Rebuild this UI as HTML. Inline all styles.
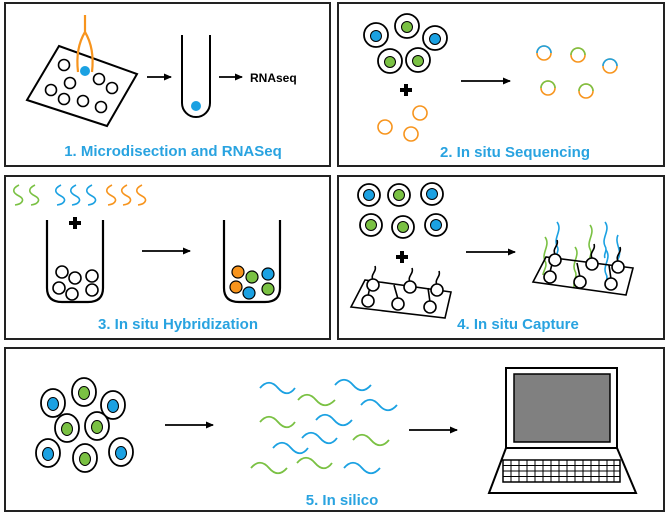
<!DOCTYPE html>
<html><head><meta charset="utf-8"><style>
html,body{margin:0;padding:0;background:#fff;}
svg{display:block;}
text{font-family:"Liberation Sans",sans-serif;font-weight:bold;}
</style></head><body>
<svg width="667" height="514" viewBox="0 0 667 514" xmlns="http://www.w3.org/2000/svg">
<defs>
<marker id="ah" markerWidth="8" markerHeight="8" refX="7" refY="4" orient="auto" markerUnits="userSpaceOnUse"><path d="M0,0.5 L8,4 L0,7.5 z" fill="#000"/></marker>
</defs>
<g fill="none" stroke="#222" stroke-width="2">
<rect x="5" y="3" width="325" height="163"/>
<rect x="338" y="3" width="326" height="163"/>
<rect x="5" y="176" width="325" height="163"/>
<rect x="338" y="176" width="326" height="163"/>
<rect x="5" y="348" width="659" height="163"/>
</g>
<g font-size="15" fill="#29a3e0" text-anchor="middle">
<text x="173" y="156">1. Microdisection and RNASeq</text>
<text x="515" y="157">2. In situ Sequencing</text>
<text x="178" y="329">3. In situ Hybridization</text>
<text x="518" y="329">4. In situ Capture</text>
<text x="342" y="505">5. In silico</text>
</g>
<!-- Panel 1 -->
<polygon points="27,100 59,46 137,74 107,126" fill="none" stroke="#000" stroke-width="2"/>
<g fill="none" stroke="#000" stroke-width="1.6">
<circle cx="64" cy="65" r="5.5"/><circle cx="70" cy="83" r="5.5"/><circle cx="51" cy="90" r="5.5"/><circle cx="64" cy="99" r="5.5"/><circle cx="83" cy="101" r="5.5"/><circle cx="99" cy="79" r="5.5"/><circle cx="112" cy="88" r="5.5"/><circle cx="101" cy="107" r="5.5"/>
</g>
<path d="M85,15 L85,32 C79,42 76,55 78,72 M85,32 C91,42 94,55 92,72" fill="none" stroke="#f7941d" stroke-width="2.2"/>
<circle cx="85" cy="71" r="5" fill="#1ba1e2"/>
<line x1="147" y1="77" x2="171" y2="77" stroke="#000" stroke-width="1.8" marker-end="url(#ah)"/>
<path d="M182,35 L182,103 A14,14 0 0 0 210,103 L210,35" fill="none" stroke="#000" stroke-width="2"/>
<circle cx="196" cy="106" r="5" fill="#1ba1e2"/>
<line x1="219" y1="77" x2="242" y2="77" stroke="#000" stroke-width="1.8" marker-end="url(#ah)"/>
<text x="250" y="82" font-size="12" fill="#000">RNAseq</text>
<!-- Panel 2 -->
<g stroke="#000" stroke-width="1.8" fill="#fff">
<circle cx="376" cy="35" r="12"/><circle cx="407" cy="26" r="12"/><circle cx="435" cy="38" r="12"/><circle cx="390" cy="61" r="12"/><circle cx="418" cy="60" r="12"/>
</g>
<g stroke="#000" stroke-width="1">
<circle cx="376" cy="36" r="5.5" fill="#1ba1e2"/><circle cx="407" cy="27" r="5.5" fill="#7ac143"/><circle cx="435" cy="39" r="5.5" fill="#1ba1e2"/><circle cx="390" cy="62" r="5.5" fill="#7ac143"/><circle cx="418" cy="61" r="5.5" fill="#7ac143"/>
</g>
<path d="M400,90 h12 M406,84 v12" stroke="#000" stroke-width="4"/>
<g fill="none" stroke="#f7941d" stroke-width="1.6">
<circle cx="420" cy="113" r="7"/><circle cx="385" cy="127" r="7"/><circle cx="411" cy="134" r="7"/>
</g>
<line x1="461" y1="81" x2="510" y2="81" stroke="#000" stroke-width="1.8" marker-end="url(#ah)"/>
<g fill="none" stroke-width="1.6">
<circle cx="544" cy="53" r="7" stroke="#f7941d"/><path d="M537,53 A7,7 0 0 1 551,53" stroke="#1ba1e2"/>
<circle cx="578" cy="55" r="7" stroke="#f7941d"/><path d="M571,55 A7,7 0 0 1 585,55" stroke="#7ac143"/>
<circle cx="610" cy="66" r="7" stroke="#f7941d"/><path d="M603,66 A7,7 0 0 1 617,66" stroke="#1ba1e2"/>
<circle cx="548" cy="88" r="7" stroke="#f7941d"/><path d="M541,88 A7,7 0 0 1 555,88" stroke="#7ac143"/>
<circle cx="586" cy="91" r="7" stroke="#f7941d"/><path d="M579,91 A7,7 0 0 1 593,91" stroke="#7ac143"/>
</g>
<!-- Panel 3 -->
<g fill="none" stroke-width="1.6">
<g stroke="#7ac143"><path d="M19,185 c-8,4 -6,8 0,11 c6,3 4,8 -4,9"/><path d="M35,185 c-8,4 -6,8 0,11 c6,3 4,8 -4,9"/></g>
<g stroke="#1ba1e2"><path d="M61,185 c-8,4 -6,8 0,11 c6,3 4,8 -4,9"/><path d="M76,185 c-8,4 -6,8 0,11 c6,3 4,8 -4,9"/><path d="M92,185 c-8,4 -6,8 0,11 c6,3 4,8 -4,9"/></g>
<g stroke="#f7941d"><path d="M112,185 c-8,4 -6,8 0,11 c6,3 4,8 -4,9"/><path d="M127,185 c-8,4 -6,8 0,11 c6,3 4,8 -4,9"/><path d="M142,185 c-8,4 -6,8 0,11 c6,3 4,8 -4,9"/></g>
</g>
<path d="M69,223 h12 M75,217 v12" stroke="#000" stroke-width="4"/>
<path d="M47,220 L47,288 Q47,302 62,302 L88,302 Q103,302 103,288 L103,220" fill="none" stroke="#000" stroke-width="2.2"/>
<g fill="none" stroke="#000" stroke-width="1.6">
<circle cx="62" cy="272" r="6"/><circle cx="75" cy="278" r="6"/><circle cx="92" cy="276" r="6"/><circle cx="59" cy="288" r="6"/><circle cx="72" cy="294" r="6"/><circle cx="92" cy="290" r="6"/>
</g>
<line x1="142" y1="251" x2="190" y2="251" stroke="#000" stroke-width="1.8" marker-end="url(#ah)"/>
<path d="M224,220 L224,288 Q224,302 239,302 L265,302 Q280,302 280,288 L280,220" fill="none" stroke="#000" stroke-width="2.2"/>
<g stroke="#000" stroke-width="1.2">
<circle cx="238" cy="272" r="6" fill="#f7941d"/><circle cx="252" cy="277" r="6" fill="#7ac143"/><circle cx="268" cy="274" r="6" fill="#1ba1e2"/><circle cx="236" cy="287" r="6" fill="#f7941d"/><circle cx="249" cy="293" r="6" fill="#1ba1e2"/><circle cx="268" cy="289" r="6" fill="#7ac143"/>
</g>
<!-- Panel 4 -->
<g stroke="#000" stroke-width="1.8" fill="#fff">
<circle cx="369" cy="195" r="11"/><circle cx="399" cy="195" r="11"/><circle cx="432" cy="194" r="11"/><circle cx="371" cy="225" r="11"/><circle cx="403" cy="227" r="11"/><circle cx="436" cy="225" r="11"/>
</g>
<g stroke="#000" stroke-width="1">
<circle cx="369" cy="195" r="5.5" fill="#1ba1e2"/><circle cx="399" cy="195" r="5.5" fill="#7ac143"/><circle cx="432" cy="194" r="5.5" fill="#1ba1e2"/><circle cx="371" cy="225" r="5.5" fill="#7ac143"/><circle cx="403" cy="227" r="5.5" fill="#7ac143"/><circle cx="436" cy="225" r="5.5" fill="#1ba1e2"/>
</g>
<path d="M396,257 h12 M402,251 v12" stroke="#000" stroke-width="4"/>
<g fill="none" stroke="#000" stroke-width="1.6">
<polygon points="351,307 365,280 451,292 445,318"/>
<path d="M373,280 c-3,-6 4,-8 2,-14 M410,282 c-3,-6 4,-8 2,-14 M437,285 c-3,-6 4,-8 2,-14"/>
<path d="M368,296 l3,-14 M398,299 l-4,-14 M430,302 l-2,-14"/>
</g>
<g fill="#fff" stroke="#000" stroke-width="1.6">
<circle cx="373" cy="285" r="6"/><circle cx="410" cy="287" r="6"/><circle cx="437" cy="290" r="6"/><circle cx="368" cy="301" r="6"/><circle cx="398" cy="304" r="6"/><circle cx="430" cy="307" r="6"/>
</g>
<line x1="466" y1="252" x2="515" y2="252" stroke="#000" stroke-width="1.8" marker-end="url(#ah)"/>
<g fill="none" stroke-width="1.6">
<g stroke="#7ac143"><path d="M545,237 c6,8 -4,16 0,24 c3,5 -2,10 -2,14"/><path d="M575,247 c6,8 -4,16 0,24 c3,5 -2,10 -1,16"/><path d="M590,225 c6,8 -4,16 0,24 c3,5 -2,10 -1,14"/></g>
<g stroke="#1ba1e2"><path d="M557,222 c6,8 -4,16 0,24 c3,5 -2,8 0,12"/><path d="M605,222 c6,8 -4,16 0,24 c3,5 -2,8 0,12"/><path d="M606,250 c6,8 -4,16 0,24 c3,5 -2,8 1,14"/><path d="M618,235 c-4,8 5,16 0,24 c-3,5 2,10 1,14"/></g>
</g>
<g fill="none" stroke="#000" stroke-width="1.6">
<polygon points="533,282 546,257 633,268 626,295"/>
<path d="M555,254 c-3,-6 4,-8 2,-14 M592,258 c-3,-6 4,-8 2,-14 M618,261 c-3,-6 4,-8 2,-14"/>
<path d="M550,272 l3,-12 M580,277 l-3,-14 M611,279 l-2,-14"/>
</g>
<g fill="#fff" stroke="#000" stroke-width="1.6">
<circle cx="555" cy="260" r="6"/><circle cx="592" cy="264" r="6"/><circle cx="618" cy="267" r="6"/><circle cx="550" cy="277" r="6"/><circle cx="580" cy="282" r="6"/><circle cx="611" cy="284" r="6"/>
</g>
<!-- Panel 5 -->
<g stroke="#000" stroke-width="1.8" fill="#fff">
<ellipse cx="53" cy="403" rx="12" ry="14"/><ellipse cx="84" cy="392" rx="12" ry="14"/><ellipse cx="113" cy="405" rx="12" ry="14"/><ellipse cx="67" cy="428" rx="12" ry="14"/><ellipse cx="97" cy="426" rx="12" ry="14"/><ellipse cx="48" cy="453" rx="12" ry="14"/><ellipse cx="85" cy="458" rx="12" ry="14"/><ellipse cx="121" cy="452" rx="12" ry="14"/>
</g>
<g stroke="#000" stroke-width="1">
<ellipse cx="53" cy="404" rx="5.5" ry="6.5" fill="#1ba1e2"/><ellipse cx="84" cy="393" rx="5.5" ry="6.5" fill="#7ac143"/><ellipse cx="113" cy="406" rx="5.5" ry="6.5" fill="#1ba1e2"/><ellipse cx="67" cy="429" rx="5.5" ry="6.5" fill="#7ac143"/><ellipse cx="97" cy="427" rx="5.5" ry="6.5" fill="#7ac143"/><ellipse cx="48" cy="454" rx="5.5" ry="6.5" fill="#1ba1e2"/><ellipse cx="85" cy="459" rx="5.5" ry="6.5" fill="#7ac143"/><ellipse cx="121" cy="453" rx="5.5" ry="6.5" fill="#1ba1e2"/>
</g>
<line x1="165" y1="425" x2="213" y2="425" stroke="#000" stroke-width="1.8" marker-end="url(#ah)"/>
<g fill="none" stroke-width="1.8">
<g stroke="#1ba1e2">
<path d="M260,388 c6,-7 12,-7 18,0 c6,7 12,7 17,0"/><path d="M335,385 c6,-7 12,-7 18,0 c6,7 12,7 18,0"/><path d="M361,405 c6,-7 12,-7 18,0 c6,7 12,7 18,0"/><path d="M316,420 c6,-7 12,-7 18,0 c6,7 12,7 18,0"/><path d="M302,438 c6,-7 12,-7 18,0 c6,7 12,7 17,0"/><path d="M273,448 c6,-7 12,-7 18,0 c6,7 12,7 17,0"/><path d="M344,468 c6,-7 12,-7 18,0 c6,7 12,7 18,0"/>
</g>
<g stroke="#7ac143">
<path d="M298,400 c6,-7 12,-7 18,0 c6,7 12,7 19,0"/><path d="M260,422 c6,-7 12,-7 18,0 c6,7 12,7 17,0"/><path d="M353,440 c6,-7 12,-7 18,0 c6,7 12,7 18,0"/><path d="M251,468 c6,-7 12,-7 18,0 c6,7 12,7 18,0"/><path d="M297,463 c6,-7 12,-7 18,0 c6,7 12,7 17,0"/>
</g>
</g>
<line x1="409" y1="430" x2="457" y2="430" stroke="#000" stroke-width="1.8" marker-end="url(#ah)"/>
<rect x="506" y="368" width="111" height="80" fill="#fff" stroke="#000" stroke-width="2"/>
<rect x="514" y="374" width="96" height="68" fill="#808080" stroke="#000" stroke-width="1.5"/>
<polygon points="506,448 617,448 636,493 489,493" fill="#fff" stroke="#000" stroke-width="2"/>
<rect x="503" y="460" width="117" height="22" fill="#fff" stroke="#000" stroke-width="1.5"/>
<g stroke="#000" stroke-width="1">
<path d="M503,465.5 h117 M503,471 h117 M503,476.5 h117"/>
<path d="M511,460 v22 M519,460 v22 M527,460 v22 M535,460 v22 M543,460 v22 M551,460 v22 M559,460 v22 M567,460 v22 M575,460 v22 M583,460 v22 M591,460 v22 M599,460 v22 M607,460 v22 M614,460 v22"/>
</g>
</svg>
</body></html>
